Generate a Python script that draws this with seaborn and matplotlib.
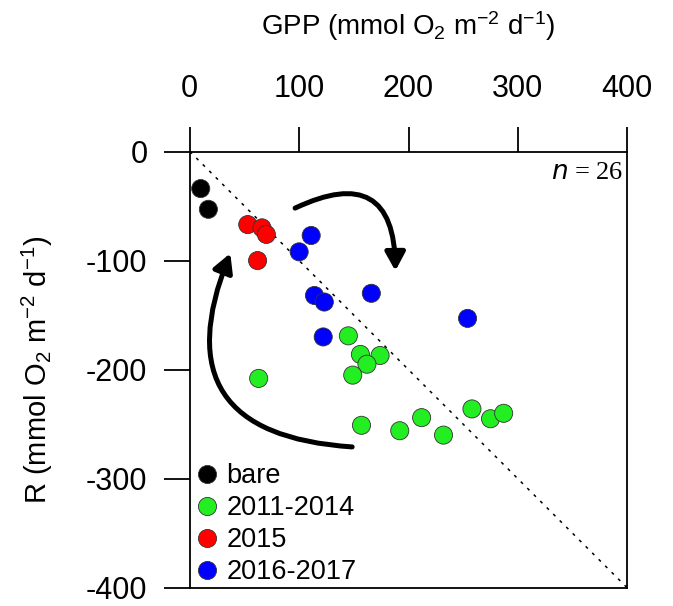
import pandas as pd
import matplotlib.pyplot as plt
import seaborn as sns

# datos
gpp_bare = [10, 17]
r_bare = [-34, -53]
gpp_1114 = [145, 156, 174, 162, 149, 63, 157, 192, 212, 232, 258, 275, 287]
r_1114 = [-169, -186, -187, -195, -205, -208, -251, -256, -244, -260, -236, -245, -240]
gpp_2015 = [53, 66, 70, 62]
r_2015 = [-67, -70, -76, -100]
gpp_1617 = [111, 100, 114, 123, 166, 122, 254]
r_1617 = [-77, -92, -132, -138, -130, -170, -153]

grupos = ['bare', '2011-2014', '2015', '2016-2017']
colores = ['#000000', '#22EE22', '#FF0000', '#0000FF']

df = pd.concat([
    pd.DataFrame({'GPP': gpp_bare, 'R': r_bare, 'grupo': 'bare'}),
    pd.DataFrame({'GPP': gpp_1114, 'R': r_1114, 'grupo': '2011-2014'}),
    pd.DataFrame({'GPP': gpp_2015, 'R': r_2015, 'grupo': '2015'}),
    pd.DataFrame({'GPP': gpp_1617, 'R': r_1617, 'grupo': '2016-2017'}),
], ignore_index=True)

sns.set_style('ticks')
plt.rcParams['font.family'] = ['Liberation Sans', 'DejaVu Sans']
plt.rcParams['mathtext.default'] = 'regular'
plt.rcParams['axes.unicode_minus'] = False
plt.rcParams['text.color'] = 'black'
plt.rcParams['axes.labelcolor'] = 'black'
plt.rcParams['xtick.color'] = 'black'
plt.rcParams['ytick.color'] = 'black'
plt.rcParams['axes.edgecolor'] = 'black'

fig = plt.figure(figsize=(6.73, 6.06), dpi=100)
ax = fig.add_axes([0.282, 0.03, 0.65, 0.72])

# linea 1:1
ax.plot([0, 400], [0, -400], color='black', lw=1.1, ls=(0, (2, 4)), zorder=1)

sns.scatterplot(data=df, x='GPP', y='R', hue='grupo', hue_order=grupos,
                palette=colores, s=170, edgecolor='#333333', linewidth=0.6,
                ax=ax, zorder=3)

# flechas curvas
flecha = '-|>,head_length=1.1,head_width=0.6'
ax.annotate('', xy=(188, -112), xytext=(94, -53),
            arrowprops=dict(arrowstyle=flecha, lw=3.6, color='black',
                            connectionstyle='arc3,rad=-0.8'))
ax.annotate('', xy=(38, -91), xytext=(151, -271),
            arrowprops=dict(arrowstyle=flecha, lw=3.6, color='black',
                            connectionstyle='arc3,rad=-0.7'))

ax.set_xlim(0, 400)
ax.set_ylim(-400, 0)
ax.set_xticks([0, 100, 200, 300, 400])
ax.set_yticks([0, -100, -200, -300, -400])
ax.xaxis.tick_top()
ax.xaxis.set_label_position('top')
ax.tick_params(axis='x', direction='out', length=18, width=1.3, labelsize=22, pad=16)
ax.tick_params(axis='y', direction='out', length=18.5, width=1.3, labelsize=22, pad=12)
for sp in ax.spines.values():
    sp.set_linewidth(1.3)

ax.set_xlabel(r'GPP (mmol O$_2$ m$^{-2}$ d$^{-1}$)', fontsize=20, labelpad=28)
ax.set_ylabel(r'R (mmol O$_2$ m$^{-2}$ d$^{-1}$)', fontsize=21, labelpad=22)

ax.text(0.99, 0.975, r'$\it{n}$ = 26', transform=ax.transAxes, ha='right', va='top',
        fontsize=19, family='Liberation Serif')

leg = ax.legend(loc='lower left', bbox_to_anchor=(0.0, 0.0), frameon=False,
                fontsize=19.5, handletextpad=0.15, borderaxespad=0.0,
                labelspacing=0.22, borderpad=0.1, handlelength=1.1)

plt.savefig('out.png', dpi=100)
